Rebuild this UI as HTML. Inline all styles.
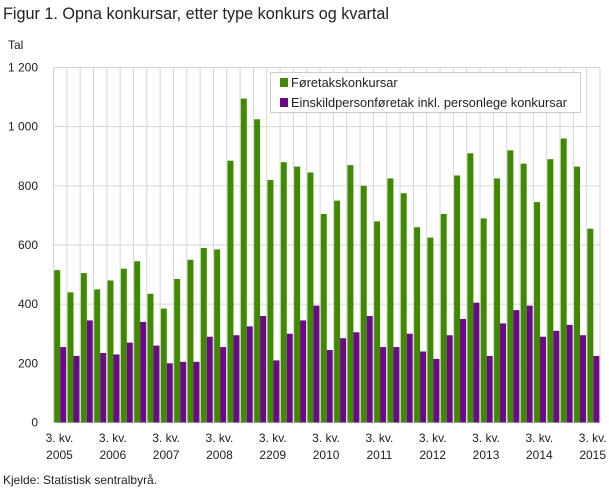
<!DOCTYPE html>
<html><head><meta charset="utf-8"><style>
body{margin:0;background:#fff;font-family:"Liberation Sans",sans-serif;}
svg text{font-family:"Liberation Sans",sans-serif;fill:#222;}
</style></head><body>
<svg width="609" height="488">
<text x="3" y="19" font-size="16.2">Figur 1. Opna konkursar, etter type konkurs og kvartal</text>
<text x="8" y="49" font-size="12">Tal</text>
<g id="grid"></g><g id="bars"></g><g id="axes"></g>
<g>
<rect x="270.5" y="72.5" width="310" height="40" fill="#fff" stroke="#ccc"/>
<rect x="280" y="78" width="8" height="9" fill="#3f8a00"/>
<text x="291" y="87" font-size="12.8">Føretakskonkursar</text>
<rect x="280" y="98" width="8" height="9" fill="#6a0a89"/>
<text x="291" y="107" font-size="12.8">Einskildpersonføretak inkl. personlege konkursar</text>
</g>
<text x="3" y="484" font-size="12">Kjelde: Statistisk sentralbyrå.</text>
</svg>
<script>
const foretak=[515,440,505,450,480,520,545,435,385,485,550,590,585,885,1095,1025,820,880,865,845,705,750,870,800,680,825,775,660,625,705,835,910,690,825,920,875,745,890,960,865,655];
const einskild=[255,225,345,235,230,270,340,260,200,205,205,290,255,295,325,360,210,300,345,395,245,285,305,360,255,255,300,240,215,295,350,405,225,335,380,395,290,310,330,295,225];
const yTicks=[0,200,400,600,800,1000,1200];
const yTickLabels=["0","200","400","600","800","1 000","1 200"];
const xYears=["2005","2006","2007","2008","2209","2010","2011","2012","2013","2014","2015"];
const NS="http://www.w3.org/2000/svg";
const L=53.5,R=600,T=67.5,B=422.5,n=foretak.length,gw=(R-L)/n;
const y=v=>B-(v/1200)*(B-T);
const x=i=>L+i*gw;
function mk(tag,attrs,parent){const e=document.createElementNS(NS,tag);for(const k in attrs)e.setAttribute(k,attrs[k]);document.getElementById(parent).appendChild(e);return e;}
yTicks.forEach((t,i)=>{
 const g=mk('line',{x1:L,x2:R,y1:y(t),y2:y(t),stroke:'#d6d6d6'},'grid');
 
 
 const tx=mk('text',{x:38,y:y(t)+4,'font-size':12,'text-anchor':'end'},'axes');
 tx.textContent=yTickLabels[i];
 
 
});
for(let i=0;i<=n;i++){
 const g=mk('line',{x1:x(i),x2:x(i),y1:T,y2:B,stroke:'#d6d6d6'},'grid');
 
 
}
foretak.forEach((v,i)=>{
 const b=mk('rect',{x:x(i)+0.7,y:y(v),width:gw/2-0.7,height:B-y(v),fill:'#3f8a00'},'bars');
 
 
 const w=einskild[i];
 const c=mk('rect',{x:x(i)+gw/2,y:y(w),width:gw/2-0.7,height:B-y(w),fill:'#6a0a89'},'bars');
 
 
});
xYears.forEach((yr,k)=>{
 const cx=x(k*4)+6;
 const t1=mk('text',{x:cx,y:442,'font-size':12,'text-anchor':'middle'},'axes');
 t1.textContent='3. kv.';
 
 
 const t2=mk('text',{x:cx,y:459,'font-size':12,'text-anchor':'middle'},'axes');
 t2.textContent=yr;
 
 
});
</script>
</body></html>
